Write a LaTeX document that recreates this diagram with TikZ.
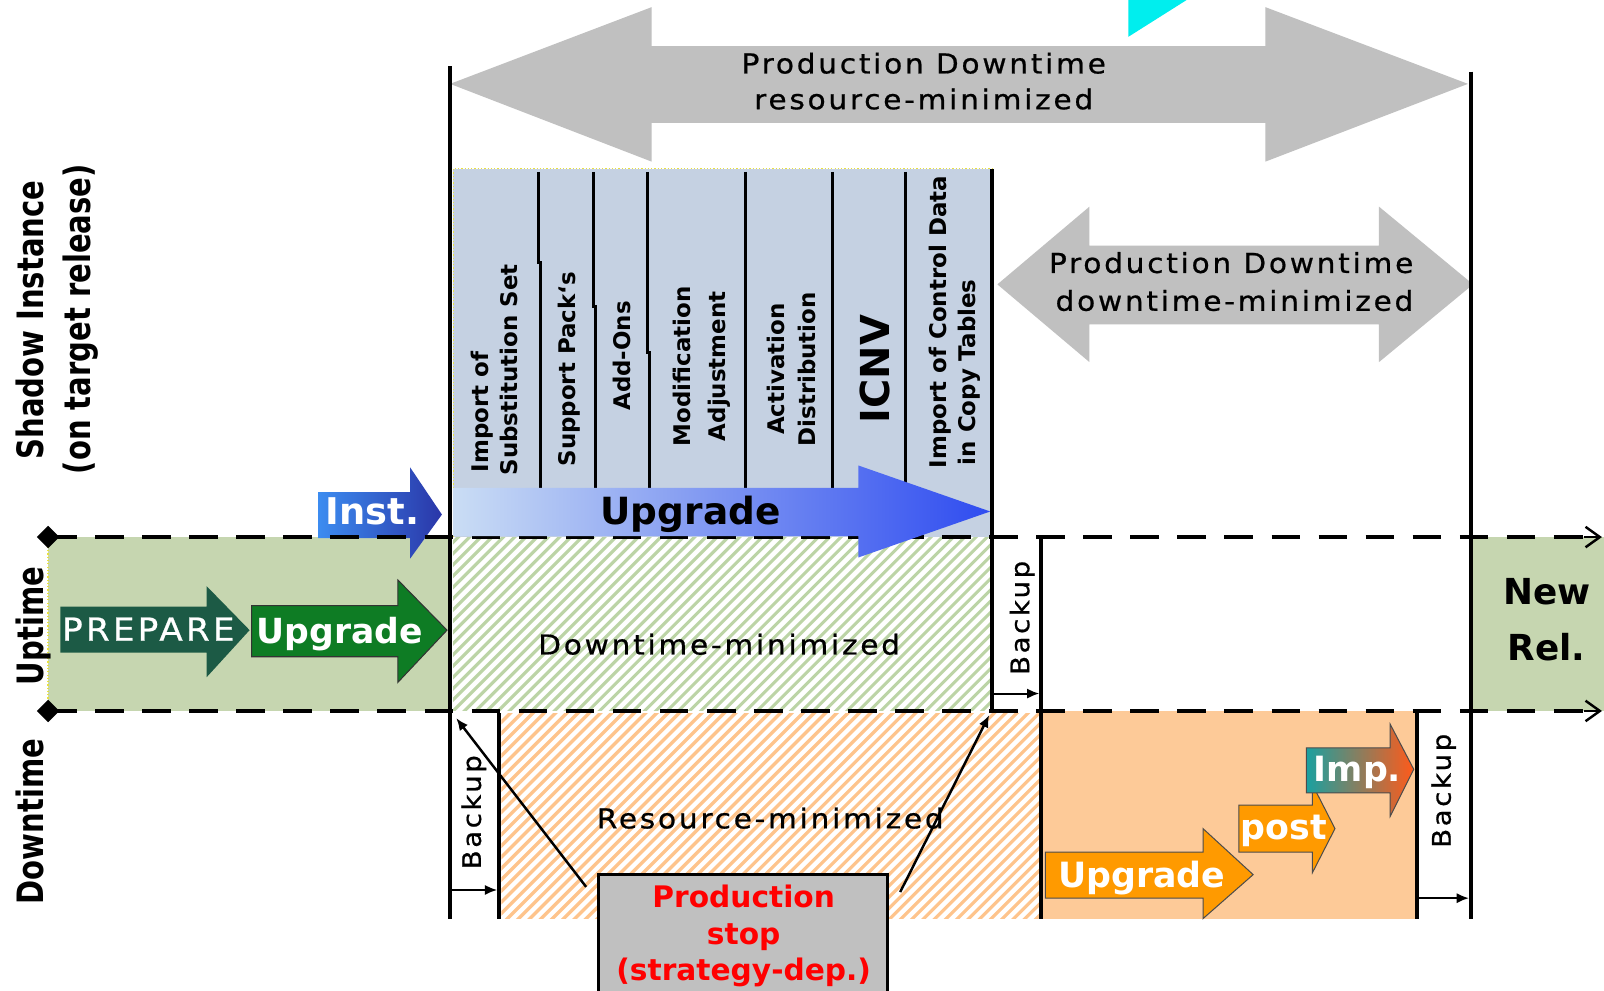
\documentclass[tikz,border=0pt]{standalone}
\usepackage{fontspec}
\setmainfont{DejaVu Sans}
\newfontfamily\lsfont{DejaVu Sans}[LetterSpace=10,FakeStretch=1.08,FakeBold=0.7]
\usetikzlibrary{arrows.meta}
\definecolor{arrgray}{HTML}{C0C0C0}
\definecolor{boxblue}{HTML}{C5D1E2}
\definecolor{upgreen}{HTML}{C6D6B0}
\definecolor{hatchg}{HTML}{BCD4A6}
\definecolor{orfill}{HTML}{FDCA98}
\definecolor{hatcho}{HTML}{FEC48C}
\definecolor{prepcol}{HTML}{1C5A45}
\definecolor{upgcol}{HTML}{0E7C24}
\definecolor{orarr}{HTML}{FF9A00}
\definecolor{instL}{HTML}{3C8CF0}
\definecolor{instR}{HTML}{2A36A8}
\definecolor{upbL}{HTML}{CADDF4}
\definecolor{upbR}{HTML}{2F4CF0}
\definecolor{impL}{HTML}{1AA0A0}
\definecolor{impR}{HTML}{FF5A1A}
\definecolor{cyantri}{HTML}{00EEEE}
\definecolor{ydot}{HTML}{E8E040}
\begin{document}
\begin{tikzpicture}[x=0.5pt,y=-0.5pt,
  yellowdot/.style={ydot, line width=0.6pt, densely dotted},
  vline/.style={line width=2pt},
  sepline/.style={line width=1.5pt},
  dashline/.style={line width=2pt, dash pattern=on 14pt off 9pt},
  smallarr/.style={line width=1pt, -{Latex[length=6pt,width=5pt]}},
  diagarr/.style={line width=1.2pt, -{Latex[length=6pt,width=5pt]}},
  endarr/.style={line width=1.2pt, -{Straight Barb[length=7pt,width=10pt]}},
  regtxt/.style={inner sep=0pt, text height=9.8pt, text depth=0pt, font=\lsfont\fontsize{13.4}{16}\selectfont},
  backtxt/.style={inner sep=0pt, rotate=90, text height=9.1pt, text depth=0pt, font=\lsfont\fontsize{12.5}{15}\selectfont},
  coltxt/.style={inner sep=0pt, rotate=90, text height=8.2pt, text depth=0pt, font=\bfseries\fontsize{11.2}{14}\selectfont},
  sidetxt/.style={inner sep=0pt, rotate=90, text height=13pt, text depth=0pt, font=\bfseries\fontsize{17.75}{20}\selectfont},
  wtxt/.style={inner sep=0pt, text=white, text height=12.4pt, text depth=0pt, font=\bfseries\fontsize{17}{20}\selectfont},
  btxt/.style={inner sep=0pt, text height=12.8pt, text depth=0pt, font=\bfseries\fontsize{17.5}{20}\selectfont},
  redtxt/.style={inner sep=0pt, text=red, text height=10.6pt, text depth=0pt, font=\bfseries\fontsize{14.5}{17}\selectfont}
]
\useasboundingbox (0,0) rectangle (1568,968);
\fill[white] (0,0) rectangle (1568,968);

% big gray double arrow (resource-minimized)
\fill[arrgray] (440,82) -- (637,7) -- (637,45) -- (1237,45) -- (1237,7) -- (1435,82)
  -- (1237,158) -- (1237,120) -- (637,120) -- (637,158) -- cycle;
% cyan triangle
\fill[cyantri] (1103,0) -- (1160,0) -- (1103,36) -- cycle;
% gray double arrow (downtime-minimized)
\fill[arrgray] (975,278) -- (1065,202) -- (1065,240) -- (1348,240) -- (1348,202) -- (1440,278)
  -- (1348,354) -- (1348,317) -- (1065,317) -- (1065,354) -- cycle;

% shadow instance box
\fill[boxblue] (443,165) rectangle (970,525);
\draw[yellowdot] (443,525) -- (443,165) -- (970,165);

% uptime green regions
\fill[upgreen] (47,525) rectangle (440,695);
\draw[yellowdot] (47,525) -- (47,695);
\fill[upgreen] (1440,525) rectangle (1568,695);

% green hatched region
\begin{scope}
  \clip (443,525) rectangle (968,695);
  \foreach \i in {240,251,...,980} \draw[hatchg, line width=1.5pt] (\i,700) -- ++(210,-210);
\end{scope}
% orange region
\fill[orfill] (1018,695) rectangle (1385,898);
% orange hatched region
\begin{scope}
  \clip (490,697) rectangle (1018,898);
  \foreach \i in {280,291,...,1030} \draw[hatcho, line width=1.6pt] (\i,905) -- ++(215,-215);
\end{scope}

% separators in the shadow box
\draw[sepline] (526,168) -- (526,257) -- (528,257) -- (528,477);
\draw[sepline] (580,168) -- (580,300) -- (582,300) -- (582,477);
\draw[sepline] (633,168) -- (633,345) -- (635,345) -- (635,477);
\draw[sepline] (729,168) -- (729,477);
\draw[sepline] (814,168) -- (814,477);
\draw[sepline] (885,168) -- (885,477);

% column labels
\node[coltxt, anchor=west] (c1a) at (469,462) {Import of};
\node[coltxt, anchor=west] (c1b) at (498,465) {Substitution Set};
\node[coltxt] (c2) at (554,361) {Support Pack‘s};
\node[coltxt] (c3) at (608,348) {Add-Ons};
\node[coltxt] (c4a) at (667,358) {Modification};
\node[coltxt] (c4b) at (701,358) {Adjustment};
\node[coltxt] (c5a) at (759,361) {Activation};
\node[coltxt] (c5b) at (789,361) {Distribution};
\node[coltxt, text height=14.2pt, font=\bfseries\fontsize{19.5}{22}\selectfont] (c6) at (855,361) {ICNV};
\node[coltxt, anchor=west] (c7a) at (917,458) {Import of Control Data};
\node[coltxt, anchor=west] (c7b) at (945,455) {in Copy Tables};

% Inst. arrow (under the dashes)
\shade[left color=instL, right color=instR] (311,481) -- (401,481) -- (401,457) -- (432,503)
  -- (401,546) -- (401,526) -- (311,526) -- cycle;

% dashed time lines
\draw[dashline] (47,525) -- (1552,525);
\draw[dashline] (47,695) -- (1552,695);
\coordinate (e1s) at (1548,525); \coordinate (e1e) at (1566,525);
\coordinate (e2s) at (1548,695); \coordinate (e2e) at (1566,695);
\draw[endarr] (e1s) -- (e1e);
\draw[endarr] (e2s) -- (e2e);
\fill (47,514) -- (58,525) -- (47,536) -- (36,525) -- cycle;
\fill (47,684) -- (58,695) -- (47,706) -- (36,695) -- cycle;

% upgrade arrow in shadow instance
\shade[left color=upbL, right color=upbR] (443,477) -- (839,477) -- (839,455) -- (968,500)
  -- (839,545) -- (839,524) -- (443,524) -- cycle;

% vertical lines
\draw[vline] (440,65) -- (440,898);
\draw[vline] (1438,70) -- (1438,898);
\draw[vline] (970,165) -- (970,697);
\draw[vline] (1018,527) -- (1018,898);
\draw[vline] (1385,695) -- (1385,898);
\draw[vline] (488,697) -- (488,898);

% PREPARE and Upgrade (uptime)
\fill[prepcol] (59,593) -- (202,593) -- (202,573) -- (244,616) -- (202,662) -- (202,638) -- (59,638) -- cycle;
\filldraw[fill=upgcol, draw=black!80, line width=0.5pt] (246,592) -- (389,592) -- (389,567) -- (437,616)
  -- (389,667) -- (389,642) -- (246,642) -- cycle;

% downtime arrows
\filldraw[fill=orarr, draw=black!70, line width=0.5pt] (1022,833) -- (1176,833) -- (1176,810) -- (1225,855)
  -- (1176,898) -- (1176,878) -- (1022,878) -- cycle;
\filldraw[fill=orarr, draw=black!70, line width=0.5pt] (1211,787) -- (1283,787) -- (1283,767) -- (1305,810)
  -- (1283,853) -- (1283,833) -- (1211,833) -- cycle;
\shade[left color=impL, right color=impR, draw=black!70, line width=0.5pt] (1277,731) -- (1359,731) -- (1359,708) -- (1382,752)
  -- (1359,798) -- (1359,775) -- (1277,775) -- cycle;

% backup arrows
\coordinate (b1s) at (972,678); \coordinate (b1e) at (1016,678);
\coordinate (b2s) at (442,870); \coordinate (b2e) at (486,870);
\coordinate (b3s) at (1387,878); \coordinate (b3e) at (1436,878);
\draw[smallarr] (b1s) -- (b1e);
\draw[smallarr] (b2s) -- (b2e);
\draw[smallarr] (b3s) -- (b3e);
\node[backtxt] (bk1) at (997,604) {Backup};
\node[backtxt] (bk2) at (461,794) {Backup};
\node[backtxt] (bk3) at (1409,773) {Backup};

% production stop and diagonals
\coordinate (dl1) at (573,867); \coordinate (dl2) at (446,702);
\coordinate (dr1) at (880,872); \coordinate (dr2) at (967,699);
\draw[diagarr] (dl1) -- (dl2);
\draw[diagarr] (dr1) -- (dr2);
\node[draw=black, line width=1.5pt, fill=arrgray, minimum width=141.5pt, minimum height=60pt, inner sep=0pt] (stop) at (726.5,915) {};
\node[redtxt] (st1) at (727,877) {Production};
\node[redtxt] (st2) at (727,913) {stop};
\node[redtxt] (st3) at (727,948) {(strategy-dep.)};

% texts
\node[regtxt] (t1a) at (903,62) {Production Downtime};
\node[regtxt] (t1b) at (903,97) {resource-minimized};
\node[regtxt, anchor=east] (t2a) at (1382,257) {Production Downtime};
\node[regtxt, anchor=east] (t2b) at (1382,294) {downtime-minimized};
\node[regtxt] (dm) at (703,630) {Downtime-minimized};
\node[regtxt] (rm) at (753,800) {Resource-minimized};

\node[wtxt, font=\bfseries\fontsize{18}{20}\selectfont, text height=13.1pt] (inst) at (364,500) {Inst.};
\node[wtxt, font=\lsfont\fontsize{15.5}{18}\selectfont, text height=11.3pt] (prep) at (145,615) {PREPARE};
\node[wtxt, font=\bfseries\fontsize{16.9}{20}\selectfont] (upg1) at (332,617) {Upgrade};
\node[btxt, font=\bfseries\fontsize{18.3}{20}\selectfont, text height=13.4pt] (upg2) at (675,499) {Upgrade};
\node[wtxt] (upg3) at (1116,855) {Upgrade};
\node[wtxt] (post) at (1255,808) {post};
\node[wtxt] (imp) at (1327,752) {Imp.};
\node[btxt] (new1) at (1512,578) {New};
\node[btxt] (new2) at (1512,633) {Rel.};

% side labels
\node[sidetxt] (s1) at (30,313) {\scalebox{0.8}[1]{Shadow Instance}};
\node[sidetxt] (s2) at (75,312) {\scalebox{0.8}[1]{(on target release)}};
\node[sidetxt] (s3) at (30,612) {\scalebox{0.8}[1]{Uptime}};
\node[sidetxt] (s4) at (30,803) {\scalebox{0.8}[1]{Downtime}};
\end{tikzpicture}
\end{document}
